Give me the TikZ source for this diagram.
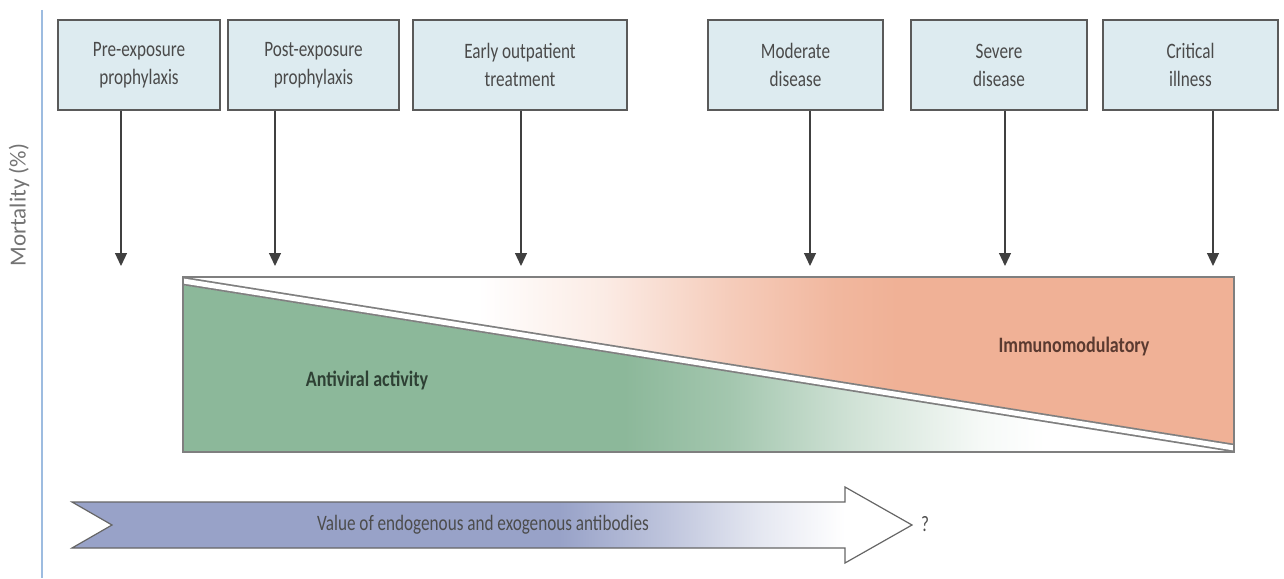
\documentclass[tikz,border=0pt]{standalone}
\usepackage{fontspec}
\setmainfont{Carlito}
\newfontfamily\cond[FakeStretch=0.78]{Carlito}
\newfontfamily\condb[FakeStretch=0.82]{Carlito}
\usetikzlibrary{arrows.meta}
\definecolor{boxfill}{HTML}{DDEBF0}
\definecolor{boxline}{HTML}{5A5A5A}
\definecolor{txtgrey}{HTML}{4A4A4A}
\definecolor{salm}{HTML}{F0B196}
\definecolor{grn}{HTML}{8CB89A}
\definecolor{arrblue}{HTML}{98A2C8}
\definecolor{vblue}{HTML}{9DBCE0}
\definecolor{edgegrey}{HTML}{7F7F7F}
\pgfdeclarehorizontalshading{salshade}{100bp}{color(0bp)=(white); color(39bp)=(white); color(45bp)=(salm!25); color(51bp)=(salm!65); color(56bp)=(salm!92); color(59bp)=(salm); color(100bp)=(salm)}
\pgfdeclarehorizontalshading{grnshade}{100bp}{color(0bp)=(grn); color(46bp)=(grn); color(51bp)=(grn!80); color(57bp)=(grn!40); color(63bp)=(grn!8); color(66bp)=(white); color(100bp)=(white)}
\pgfdeclarehorizontalshading{blueshade}{100bp}{color(0bp)=(arrblue); color(54bp)=(arrblue); color(60bp)=(arrblue!65); color(66bp)=(arrblue!25); color(71bp)=(white); color(100bp)=(white)}
\tikzset{
  stagebox/.style={draw=boxline, line width=1.3pt, fill=boxfill, minimum height=90pt,
    align=center, inner sep=0pt, text=txtgrey, font=\cond\fontsize{22}{28}\selectfont},
  conn/.style={draw=black!75, line width=1.2pt, -{Triangle[width=12pt,length=13pt]}},
  lbl/.style={font=\cond\fontsize{22}{26}\selectfont, text=txtgrey},
  biglbl/.style={font=\condb\bfseries\fontsize{22}{26}\selectfont},
}
\begin{document}
\begin{tikzpicture}[x=1pt,y=-1pt]
\useasboundingbox (0,0) rectangle (1284,578);
% axis line
\draw[vblue, line width=1.5pt] (42,10) -- (42,578);
\node[rotate=90, font=\fontsize{23}{26}\selectfont, text=black!55] (mort) at (19,205) {Mortality (\%)};

% stage boxes
\node[stagebox, minimum width=162pt] (b1) at (139,65) {Pre-exposure\\prophylaxis};
\node[stagebox, minimum width=171pt] (b2) at (313.5,65) {Post-exposure\\prophylaxis};
\node[stagebox, minimum width=214pt] (b3) at (520,65) {Early outpatient\\treatment};
\node[stagebox, minimum width=175pt] (b4) at (795.5,65) {Moderate\\disease};
\node[stagebox, minimum width=176pt] (b5) at (999,65) {Severe\\disease};
\node[stagebox, minimum width=175pt] (b6) at (1190.5,65) {Critical\\illness};

\coordinate (a1) at (121,266);
\coordinate (a2) at (275,266);
\coordinate (a3) at (521,266);
\coordinate (a4) at (810,266);
\coordinate (a5) at (1005,266);
\coordinate (a6) at (1213,266);
\foreach \i in {1,...,6} {\draw[conn] (b\i.south -| a\i) -- (a\i);}

% main panel
\shade[shading=salshade] (183,277) -- (1234,277) -- (1234,444) -- cycle;
\shade[shading=grnshade] (183,285) -- (1234,452) -- (183,452) -- cycle;
\begin{scope}
  \clip (183,277) rectangle (1234,452);
  \draw[edgegrey, line width=8.5pt] (170,278.9) -- (1250,450.5);
  \draw[white, line width=5pt] (170,278.9) -- (1250,450.5);
\end{scope}
\draw[edgegrey, line width=1.2pt] (183,277) rectangle (1234,452);
\node[biglbl, text={rgb,255:red,46;green,64;blue,52}] (av) at (367,380) {Antiviral activity};
\node[biglbl, text={rgb,255:red,90;green,58;blue,48}] (im) at (1074,347) {Immunomodulatory};

% antibodies arrow
\shade[shading=blueshade, draw=black!60, line width=1.2pt]
  (72,502) -- (845,502) -- (845,487) -- (912,525) -- (845,563) -- (845,548) -- (72,548) -- (112,525) -- cycle;
\node[lbl, text=black!70] (ab) at (483,525) {Value of endogenous and exogenous antibodies};
\node[lbl, text=black!70] (q) at (925,524) {?};
\end{tikzpicture}
\end{document}
